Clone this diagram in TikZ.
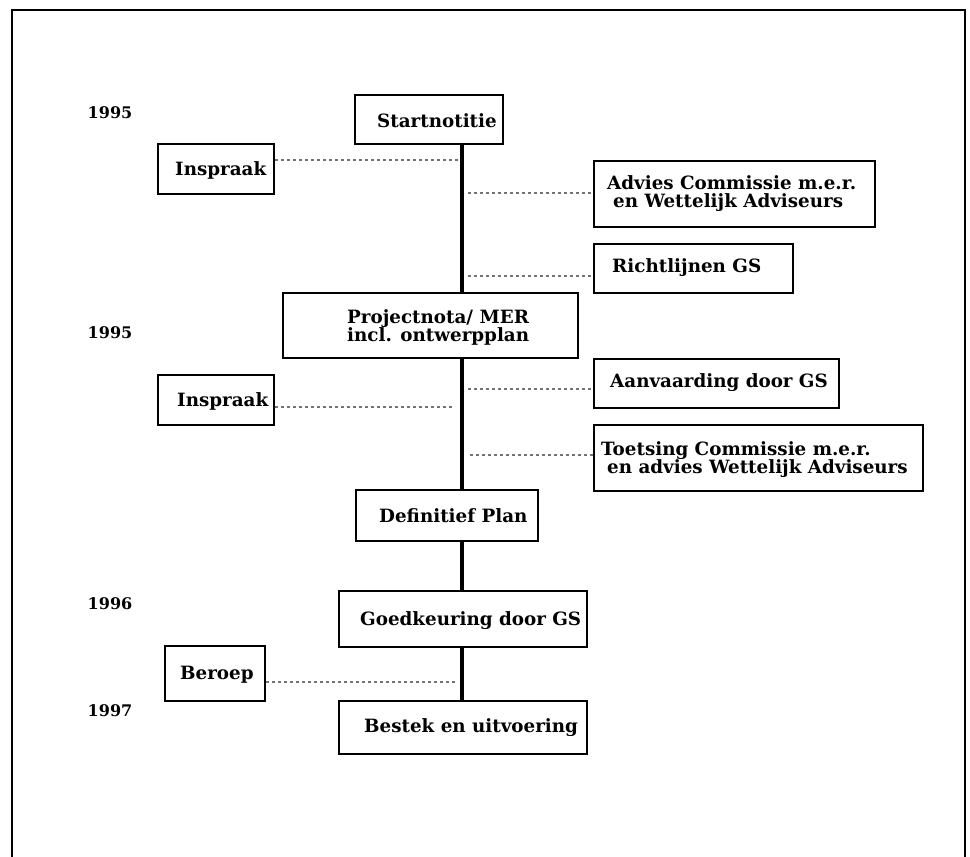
\documentclass[tikz,border=0pt]{standalone}
\usepackage{fontspec}
\setmainfont{DejaVu Serif}
\begin{document}
\begin{tikzpicture}[x=1pt,y=-1pt,
  box/.style={draw, line width=2.1pt, inner sep=0pt, anchor=north west},
  txt/.style={font=\bfseries\fontsize{18.3}{18}\selectfont, inner sep=0pt, align=left, anchor=west},
  yr/.style={font=\bfseries\fontsize{16}{16}\selectfont, inner sep=0pt},
  mainline/.style={line width=3.4pt},
  dots/.style={black!55, line width=1.7pt, dash pattern=on 2.5pt off 3.5pt}
]
\useasboundingbox (0,0) rectangle (970,857);
% outer frame
\draw[line width=2.6pt] (12,875) -- (12,10) -- (965,10) -- (965,875);

% main line reference
\coordinate (L) at (462,0);

% boxes
\node[box, minimum width=148pt, minimum height=49pt] (start) at (354,94) {};
\node[txt] (startT) at (377,121) {Startnotitie};

\node[box, minimum width=116pt, minimum height=50pt] (insp1) at (157,143) {};
\node[txt] (insp1T) at (175,170) {Inspraak};

\node[box, minimum width=281pt, minimum height=66pt] (adv) at (593,160) {};
\node[txt] (advT) at (607,194) {Advies Commissie m.e.r.\\\hspace{6pt}en Wettelijk Adviseurs};

\node[box, minimum width=199pt, minimum height=49pt] (richt) at (593,243) {};
\node[txt] (richtT) at (612,268) {Richtlijnen GS};

\node[box, minimum width=295pt, minimum height=65pt] (proj) at (282,292) {};
\node[txt] (projT) at (347,327) {Projectnota/ MER\\incl. ontwerpplan};

\node[box, minimum width=116pt, minimum height=50pt] (insp2) at (157,374) {};
\node[txt] (insp2T) at (177,401) {Inspraak};

\node[box, minimum width=245pt, minimum height=49pt] (aanv) at (593,358) {};
\node[txt] (aanvT) at (610,383) {Aanvaarding door GS};

\node[box, minimum width=329pt, minimum height=66pt] (toets) at (593,424) {};
\node[txt] (toetsT) at (601,460) {Toetsing Commissie m.e.r.\\\hspace{6pt}en advies Wettelijk Adviseurs};

\node[box, minimum width=182pt, minimum height=51pt] (defin) at (355,489) {};
\node[txt] (definT) at (379,516) {Definitief Plan};

\node[box, minimum width=248pt, minimum height=56pt] (goed) at (338,590) {};
\node[txt] (goedT) at (360,621) {Goedkeuring door GS};

\node[box, minimum width=100pt, minimum height=55pt] (beroep) at (164,645) {};
\node[txt] (beroepT) at (180,675) {Beroep};

\node[box, minimum width=248pt, minimum height=53pt] (bestek) at (338,700) {};
\node[txt] (bestekT) at (364,728) {Bestek en uitvoering};

% years
\node[yr] (y1) at (110,113) {1995};
\node[yr] (y2) at (110,333) {1995};
\node[yr] (y3) at (110,604) {1996};
\node[yr] (y4) at (110,711) {1997};

% main timeline
\draw[mainline] (start.south -| L) -- (proj.north -| L);
\draw[mainline] (proj.south -| L) -- (defin.north -| L);
\draw[mainline] (defin.south -| L) -- (goed.north -| L);
\draw[mainline] (goed.south -| L) -- (bestek.north -| L);

% dotted connectors
\coordinate (dl1) at (458,160);
\coordinate (dr1) at (468,193);
\coordinate (dr2) at (468,276);
\coordinate (dr3) at (468,389);
\coordinate (dl2) at (453,407);
\coordinate (dr4) at (470,455);
\coordinate (dl3) at (455,682);
\draw[dots] (insp1.east |- dl1) -- (dl1);
\draw[dots] (dr1) -- (adv.west |- dr1);
\draw[dots] (dr2) -- (richt.west |- dr2);
\draw[dots] (dr3) -- (aanv.west |- dr3);
\draw[dots] (insp2.east |- dl2) -- (dl2);
\draw[dots] (dr4) -- (toets.west |- dr4);
\draw[dots] (beroep.east |- dl3) -- (dl3);
\end{tikzpicture}
\end{document}
